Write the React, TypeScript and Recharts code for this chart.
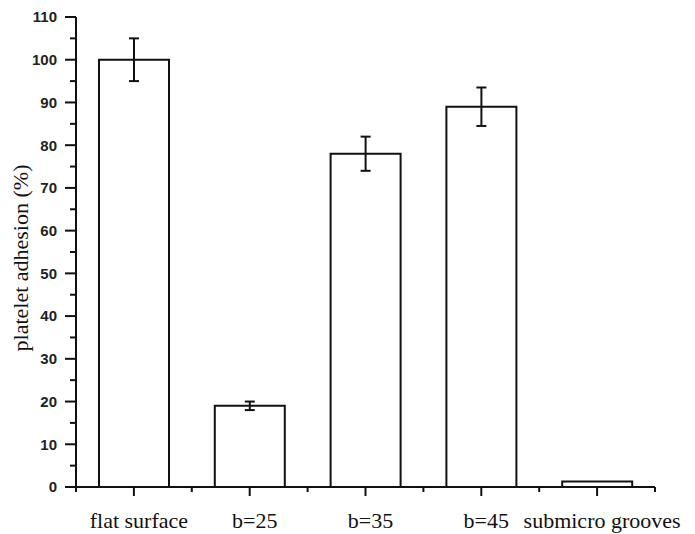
import { BarChart, Bar, XAxis, YAxis, ErrorBar, Label } from 'recharts';

const categories = ['flat surface', 'b=25', 'b=35', 'b=45', 'submicro grooves'];
const adhesion = [100, 19, 78, 89, 1.3];
const adhesionErr = [5, 1, 4, 4.5, 0];
const yTicks = [0, 5, 10, 15, 20, 25, 30, 35, 40, 45, 50, 55, 60, 65, 70, 75, 80, 85, 90, 95, 100, 105, 110];

const data = categories.map((name, i) => ({ name, value: adhesion[i], err: adhesionErr[i] }));

const INK = '#111';
const Y_TICK_SIZE = 11;
const Y_TICK_MARGIN = 8;
const X_TICK_SIZE = 9;
const X_TICK_MARGIN = 16;

function YTick(props: any) {
  const { x, y, payload } = props;
  const axisX = x + Y_TICK_SIZE + Y_TICK_MARGIN;
  const major = payload.value % 10 === 0;
  return (
    <g>
      <line x1={axisX - (major ? 11 : 6)} x2={axisX} y1={y} y2={y} stroke={INK} strokeWidth={2} />
      {major && (
        <text
          x={x}
          y={y}
          dy="0.36em"
          textAnchor="end"
          fontFamily="Liberation Sans, Arial, sans-serif"
          fontWeight="bold"
          fontSize={15}
          fill="#222"
        >
          {payload.value}
        </text>
      )}
    </g>
  );
}

function XTick(props: any) {
  const { x, y, payload, index } = props;
  const axisY = y - X_TICK_SIZE - X_TICK_MARGIN;
  const half = payload.offset ?? 0;
  const last = index === categories.length - 1;
  return (
    <g>
      <line x1={x} x2={x} y1={axisY} y2={axisY + 9} stroke={INK} strokeWidth={2} />
      <line x1={x - half} x2={x - half} y1={axisY} y2={axisY + 5} stroke={INK} strokeWidth={2} />
      {last && <line x1={x + half} x2={x + half} y1={axisY} y2={axisY + 5} stroke={INK} strokeWidth={2} />}
      <text
        x={x + 5}
        y={y}
        dy="0.71em"
        textAnchor="middle"
        fontFamily="Liberation Serif, Times New Roman, serif"
        fontSize={22}
        fill="#111"
      >
        {payload.value}
      </text>
    </g>
  );
}

function YLabel(props: any) {
  const { viewBox } = props;
  const cx = viewBox.x + 20;
  const cy = viewBox.y + viewBox.height / 2 + 6;
  return (
    <text
      x={cx}
      y={cy}
      transform={`rotate(-90, ${cx}, ${cy})`}
      textAnchor="middle"
      dominantBaseline="central"
      fontFamily="Liberation Serif, Times New Roman, serif"
      fontSize={22}
      fill="#111"
    >
      platelet adhesion (%)
    </text>
  );
}

export default function App() {
  return (
    <div style={{ position: 'absolute', left: 0, top: 0, width: 695, height: 534, background: '#fff' }}>
      <BarChart width={695} height={534} data={data} margin={{ top: 17, right: 40, left: 0, bottom: 0 }}>
        <XAxis
          dataKey="name"
          height={47}
          interval={0}
          axisLine={{ stroke: INK, strokeWidth: 2 }}
          tickLine={false}
          tickSize={X_TICK_SIZE}
          tickMargin={X_TICK_MARGIN}
          tick={<XTick />}
        />
        <YAxis
          width={76}
          domain={[0, 110]}
          ticks={yTicks}
          interval={0}
          axisLine={{ stroke: INK, strokeWidth: 2 }}
          tickLine={false}
          tickSize={Y_TICK_SIZE}
          tickMargin={Y_TICK_MARGIN}
          tick={<YTick />}
        >
          <Label content={<YLabel />} />
        </YAxis>
        <Bar dataKey="value" barSize={70} fill="#fff" stroke={INK} strokeWidth={2} isAnimationActive={false}>
          <ErrorBar dataKey="err" width={5} stroke={INK} strokeWidth={2} />
        </Bar>
      </BarChart>
    </div>
  );
}
